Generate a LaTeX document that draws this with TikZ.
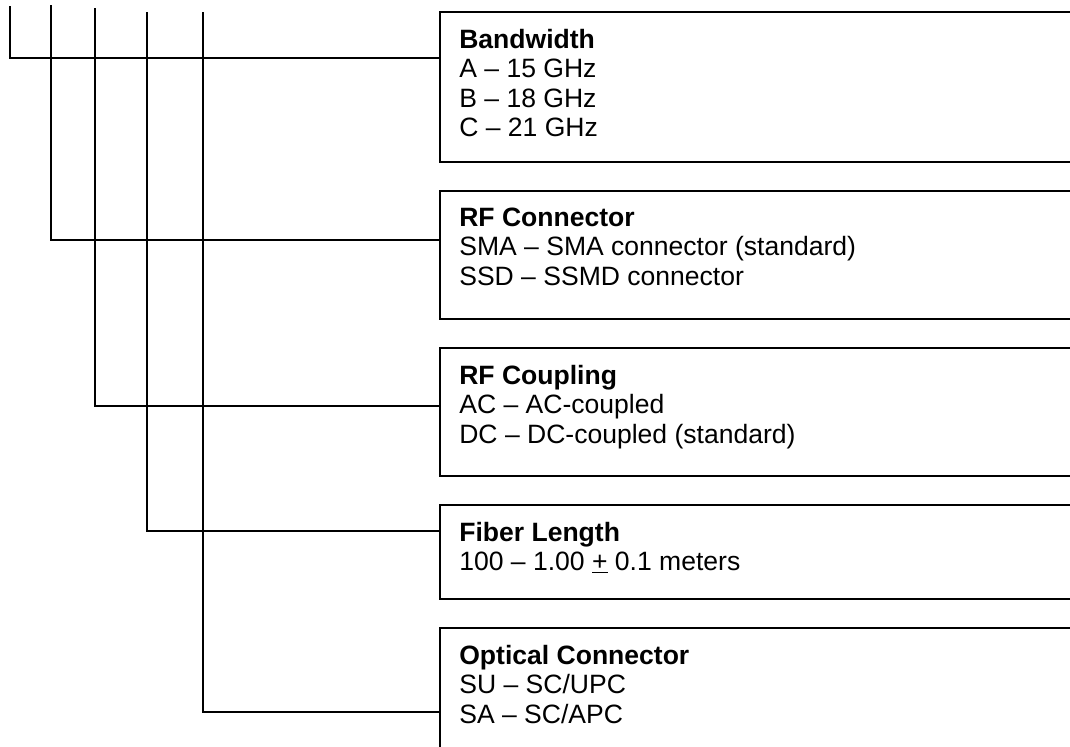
\documentclass[tikz,border=0pt]{standalone}
\usepackage{fontspec}
\setmainfont{Liberation Sans}
\usetikzlibrary{positioning}
\newcommand{\optlines}[2]{\parbox[t][#1][t]{500pt}{#2}}

\begin{document}
\begin{tikzpicture}[x=0.75pt, y=-0.75pt, node distance=21.75pt, font=\fontsize{19.9pt}{22.1pt}\selectfont]
  \tikzset{optbox/.style={draw, line width=1.5pt, outer sep=0pt, inner xsep=14.5pt, inner ysep=12.75pt},
           link/.style={line width=1.2pt}}
  \useasboundingbox (0,0) rectangle (1070,746);
  \clip (0,0) rectangle (1070,746);
  \node[optbox, anchor=north west] (bw) at (440,12) {\optlines{87pt}{\textbf{Bandwidth}\\A – 15 GHz\\B – 18 GHz\\C – 21 GHz}};
  \node[optbox, below=of bw.south west, anchor=north west] (rfconn) {\optlines{70.5pt}{\textbf{RF Connector}\\SMA – SMA connector (standard)\\SSD – SSMD connector}};
  \node[optbox, below=of rfconn.south west, anchor=north west] (rfcoup) {\optlines{70.5pt}{\textbf{RF Coupling}\\AC – AC-coupled\\DC – DC-coupled (standard)}};
  \node[optbox, below=of rfcoup.south west, anchor=north west] (fiber) {\optlines{45pt}{\textbf{Fiber Length}\\100 – 1.00 \underline{+} 0.1 meters}};
  \node[optbox, below=of fiber.south west, anchor=north west] (optconn) {\optlines{70.5pt}{\textbf{Optical Connector}\\SU – SC/UPC\\SA – SC/APC}};
  % ends of the code lines
  \coordinate (t1) at (10,6);   \coordinate (k1) at (10,58);
  \coordinate (t2) at (51,5);   \coordinate (k2) at (51,240);
  \coordinate (t3) at (95,8);   \coordinate (k3) at (95,406);
  \coordinate (t4) at (147,12); \coordinate (k4) at (147,531);
  \coordinate (t5) at (203,12); \coordinate (k5) at (203,712);
  \draw[link] (t1) -- (k1) -- (k1 -| bw.west);
  \draw[link] (t2) -- (k2) -- (k2 -| rfconn.west);
  \draw[link] (t3) -- (k3) -- (k3 -| rfcoup.west);
  \draw[link] (t4) -- (k4) -- (k4 -| fiber.west);
  \draw[link] (t5) -- (k5) -- (k5 -| optconn.west);
\end{tikzpicture}
\end{document}
